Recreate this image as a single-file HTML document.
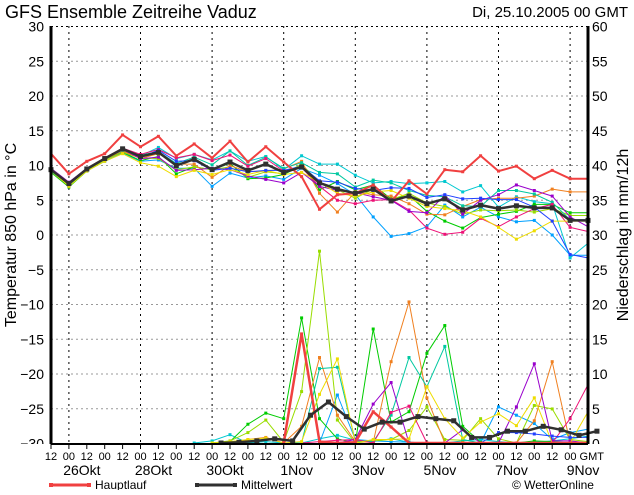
<!DOCTYPE html>
<html><head><meta charset="utf-8"><style>
body{margin:0;background:#fff;width:634px;height:490px;overflow:hidden}
svg{font-family:"Liberation Sans",sans-serif}
</style></head><body>
<svg id="c" width="634" height="490"></svg>
<script>
const tickLabels=["12","00","12","00","12","00","12","00","12","00","12","00","12","00","12","00","12","00","12","00","12","00","12","00","12","00","12","00","12","00 GMT"];
const dateLabels=["26Okt","28Okt","30Okt","1Nov","3Nov","5Nov","7Nov","9Nov"];
const dateIdx=[1,5,9,13,17,21,25,29];
const leftTicks=[30,25,20,15,10,5,0,-5,-10,-15,-20,-25,-30];
const rightTicks=[60,55,50,45,40,35,30,25,20,15,10,5,0];
const mainTemp=[11.7,8.8,10.6,11.7,14.4,12.7,14.2,11.4,13.1,11.1,13.5,10.5,12.7,10.5,8.4,3.7,5.8,6.0,7.2,4.8,7.8,5.9,9.4,9.1,11.4,9.2,9.9,8.1,9.3,8.1,8.1];
const meanTemp=[9.4,7.4,9.5,11.0,12.4,11.3,11.9,10.0,10.9,9.4,10.5,9.3,10.2,9.0,9.8,7.5,6.6,6.0,6.6,4.9,5.6,4.5,5.2,3.6,4.3,3.8,4.2,3.9,3.9,2.1,2.1];
const memberColors=["#00c8d0","#00a0ff","#00cc00","#99dd00","#f08020","#00c8a0","#ee1177","#9900cc","#eedd00","#2040ff"];
const memberTemp=[
[9.0,7.2,9.4,10.8,12.0,11.4,12.6,11.0,11.6,10.8,12.1,10.6,11.3,9.4,11.4,10.2,10.2,8.6,7.5,7.7,7.4,7.5,7.7,6.2,7.1,4.0,5.5,4.8,4.5,-3.3,-1.2],
[9.2,7.0,9.2,10.6,11.8,10.6,10.8,9.6,9.6,7.0,8.9,8.2,8.5,8.0,9.6,8.6,7.4,5.8,2.6,-0.2,0.2,1.2,4.3,2.6,4.0,2.6,1.9,2.1,0.0,-2.9,-2.9],
[9.0,6.9,9.2,10.9,11.9,10.7,11.3,8.8,9.8,9.4,10.3,8.1,8.2,8.7,10.0,6.5,7.7,6.5,7.2,5.2,5.7,3.4,2.0,1.0,2.5,3.0,3.4,4.4,4.4,3.2,3.2],
[9.1,7.1,9.3,10.8,11.9,11.1,11.0,9.4,9.8,9.4,9.8,8.3,9.1,8.8,10.2,7.5,6.5,5.3,6.6,5.1,6.0,4.6,4.1,3.0,3.6,3.5,3.6,3.3,3.8,2.8,2.8],
[9.3,7.3,9.5,10.9,12.1,11.0,11.7,10.2,10.2,8.3,10.0,9.1,9.2,9.5,10.6,6.0,3.3,6.2,5.8,5.6,4.5,3.0,2.9,4.1,5.1,5.3,5.3,5.6,6.6,6.2,6.2],
[9.2,7.1,9.3,11.0,12.2,11.5,12.0,10.3,11.2,10.1,12.1,10.0,11.2,9.6,10.4,9.0,8.8,6.9,7.9,7.5,6.4,5.7,5.5,4.2,4.1,6.4,6.4,5.9,4.7,2.2,2.2],
[9.4,7.5,9.6,11.1,12.5,11.6,12.3,11.1,11.6,10.7,11.5,9.9,11.0,9.2,9.7,7.0,5.0,4.5,5.0,5.1,3.6,1.0,0.1,0.4,2.4,1.2,2.6,3.8,4.4,1.1,0.5],
[9.6,7.6,9.6,11.1,12.3,11.0,11.2,9.3,9.4,9.6,9.4,8.5,8.0,7.5,9.0,7.0,6.4,6.1,5.5,5.0,3.4,3.2,5.7,3.0,5.0,5.8,7.2,6.4,5.6,2.6,1.2],
[9.3,7.0,9.2,10.6,11.7,10.4,9.9,8.4,9.3,8.7,9.4,8.7,9.3,8.7,9.0,7.6,6.0,5.6,6.2,6.4,5.3,4.1,3.8,3.5,2.6,1.1,-0.6,0.6,2.0,2.0,2.0],
[9.5,7.3,9.4,11.0,12.3,11.2,12.2,10.6,10.7,9.3,9.6,9.1,9.3,9.3,9.9,7.8,7.6,6.7,6.4,6.8,6.7,5.4,5.8,5.2,5.3,5.1,5.1,4.0,2.0,-2.8,-3.3]
];
const mainPrec=[0,0,0,0,0,0,0,0,0,0,0,0,0,0,15.7,0.2,0,0.1,4.5,2.3,0,0,0,0,0,0,0,0,0,0,0];
const meanPrec=[0,0,0,0,0,0,0,0,0,0,0.1,0.3,0.6,0.3,4.0,5.9,3.8,2.0,3.0,3.0,3.8,3.5,3.2,0.8,0.8,1.7,1.7,2.4,1.9,1.1,1.7];
const memberPrec=[
[0,0,0,0,0,0,0,0,0,0.3,1.2,0,0.2,0,0,0.6,1.1,0.4,0.2,0.6,0.1,0,0,0.3,0.5,0.2,0,0.1,0.3,0.6,1.0],
[0,0,0,0,0,0,0,0,0,0,0,0,0,0,0,0,6.9,0.5,0.3,0.2,0.1,0,0,0,0,5.2,4.0,2.8,0.5,1.5,2.0],
[0,0,0,0,0,0,0,0,0,0,0.2,2.7,4.3,3.5,18.0,3.5,0.6,0,16.4,3.0,4.5,12.9,16.9,2.4,0.1,0,0,0.3,0.2,0,0],
[0,0,0,0,0,0,0,0,0,0,0.3,1.5,3.3,0.1,7.4,27.6,3.3,0,0.3,0.5,1.8,5.2,0.5,0.4,3.5,0.6,0,5.4,4.9,0.5,0.2],
[0,0,0,0,0,0,0,0,0,0,0,0.5,0.8,0,2.4,12.3,4.0,0.2,0.1,11.7,20.3,6.5,0,0,0,0,0,3.2,11.7,0,0],
[0,0,0,0,0,0,0,0,0,0,0,0,0,0,0,10.7,10.9,0.3,0.2,4.0,12.3,8.1,13.9,0.5,0,0,0,0,0,0,0],
[0,0,0,0,0,0,0,0,0,0,0,0,0,0,0,0.2,0.4,0.5,0,4.4,5.3,0,0,0,0,0,0,0,0,3.5,8.4],
[0,0,0,0,0,0,0,0,0,0,0,0,0,0,0,0,0,0.5,5.6,8.7,0,0,0,1.9,0,0,5.2,11.4,0.3,0.3,0],
[0,0,0,0,0,0,0,0,0,0,0.2,0.5,0.7,0,0.2,7.0,12.1,0,0.5,0.5,0.6,8.1,3.5,0.7,3.0,4.2,2.5,6.5,0,0,4.5],
[0,0,0,0,0,0,0,0,0,0,0,0,0,0,0,0,0,0,0,0,0,0,0,0,0,1.5,1.5,1.3,1.0,0.8,0.8]
];
const NS="http://www.w3.org/2000/svg";
const svg=document.getElementById('c');
const X0=51,DX=17.9;
function xs(i){return X0+DX*i;}
function yT(t){return 235-6.95*t;}
function yP(p){return 443-6.95*p;}
function mk(tag,attrs,parent){const e=document.createElementNS(NS,tag);for(const k in attrs)e.setAttribute(k,attrs[k]);(parent||svg).appendChild(e);return e;}
function txt(s,x,y,size,anchor,name){const t=mk('text',{x:x,y:y,'font-size':size,'text-anchor':anchor||'start',fill:'#000'});t.textContent=s;


return t;}
leftTicks.forEach((v,k)=>{const y=yT(v);
 const l=mk('line',{x1:X0,x2:588,y1:y,y2:y,stroke:(v===30?'#000':'#999'),'stroke-dasharray':'2,3','stroke-width':1});
 
 
 txt(String(v).replace('-','\u2212'),44,y+5,14,'end','left-tick-label');
 txt(String(rightTicks[k]),592,y+5,14,'start','right-tick-label');
});
dateIdx.forEach(i=>{const l=mk('line',{x1:xs(i),x2:xs(i),y1:26,y2:443,stroke:'#000','stroke-dasharray':'2,4','stroke-width':1});
 
 });
function poly(vals,fx,fy,color,w,name,sq,trim){
 let s=0;
 if(trim){let f=vals.findIndex(v=>v>0);s=f<0?vals.length:Math.max(0,f-1);}
 const pts=[];for(let i=s;i<vals.length;i++)pts.push(fx(i).toFixed(1)+','+fy(vals[i]).toFixed(1));
 const g=mk('g',{});
 
 
 mk('polyline',{points:pts.join(' '),fill:'none',stroke:color,'stroke-width':w,'stroke-linejoin':'round'},g);
 for(let i=s;i<vals.length;i++)mk('rect',{x:fx(i)-sq/2,y:fy(vals[i])-sq/2,width:sq,height:sq,fill:color},g);
}
memberTemp.forEach((s,k)=>poly(s,xs,yT,memberColors[k],1,'member-temp-'+k,3,false));
memberPrec.forEach((s,k)=>poly(s,xs,yP,memberColors[k],1,'member-precip-'+k,3,true));
poly(mainTemp,xs,yT,'#f04040',2,'main-run-temp',3,false);
poly(mainPrec,xs,yP,'#f04040',2.5,'main-run-precip',3,true);
poly(meanTemp,xs,yT,'#303030',2.5,'mean-temp',5,false);
poly(meanPrec,i=>xs(i+0.5),yP,'#303030',2.5,'mean-precip',5,true);
mk('rect',{x:0,y:444,width:634,height:46,fill:'#fff'});
mk('line',{x1:X0,x2:X0,y1:26,y2:444,stroke:'#000','stroke-width':3});
mk('line',{x1:588,x2:588,y1:26,y2:444,stroke:'#000','stroke-width':3});
mk('line',{x1:X0,x2:588,y1:444,y2:444,stroke:'#000','stroke-width':2});
tickLabels.forEach((s,i)=>{const x=xs(i);
 mk('line',{x1:x,x2:x,y1:444,y2:449,stroke:'#000'});
 txt(s,x+(s.length>2?14:0),460,11,'middle','x-tick-label');});
dateLabels.forEach((s,k)=>txt(s,xs(dateIdx[k])+13,475,14,'middle','date-label'));
txt('GFS  Ensemble  Zeitreihe  Vaduz',5,18,18,'start','chart-title');
txt('Di, 25.10.2005 00 GMT',628,17,15,'end','run-date');
const lt=txt('Temperatur 850 hPa in °C',0,0,16,'middle','y-axis-title-left');lt.setAttribute('transform','translate(16,235) rotate(-90)');
const rt=txt('Niederschlag in mm/12h',0,0,16,'middle','y-axis-title-right');rt.setAttribute('transform','translate(628,235) rotate(-90)');
function leg(x,c,label,name){const g=mk('g',{});
 
 
 mk('line',{x1:x,x2:x+38,y1:485,y2:485,stroke:c,'stroke-width':3},g);
 mk('rect',{x:x-2,y:483,width:4,height:4,fill:c},g);mk('rect',{x:x+36,y:483,width:4,height:4,fill:c},g);
 const t=mk('text',{x:x+44,y:489,'font-size':12,fill:'#000'},g);t.textContent=label;}
leg(51,'#f04040','Hauptlauf','legend-main-run');
leg(197,'#303030','Mittelwert','legend-mean');
txt('© WetterOnline',512,489,12,'start','copyright');
</script>
</body></html>
